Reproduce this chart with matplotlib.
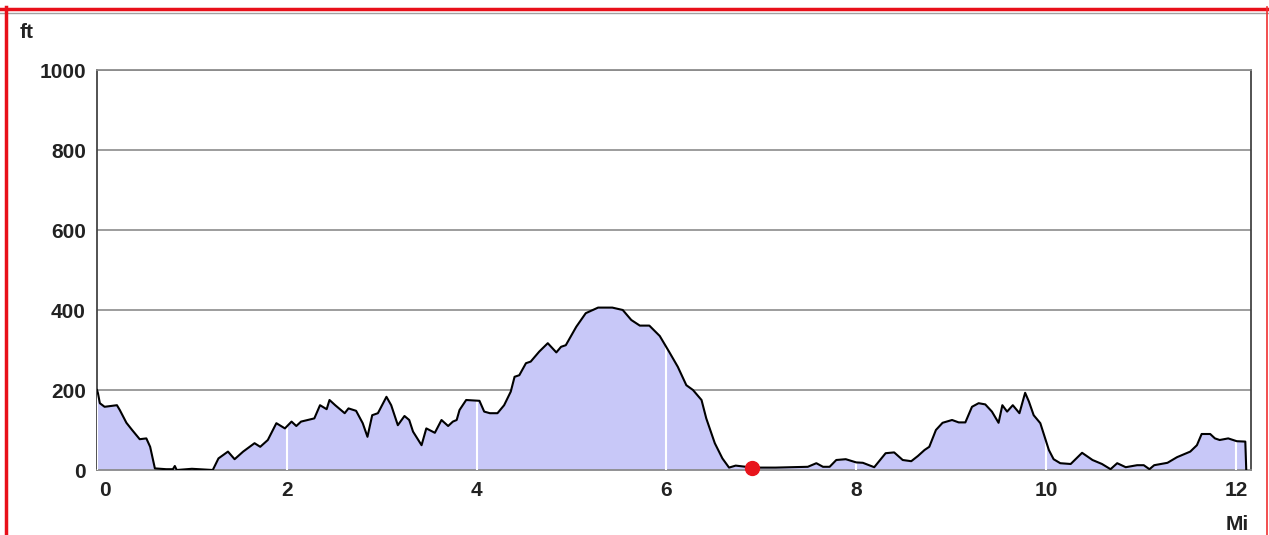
import numpy as np
import matplotlib
matplotlib.use("Agg")
import matplotlib.pyplot as plt
from matplotlib.lines import Line2D
from matplotlib.transforms import ScaledTranslation

# Elevation profile (miles, feet)
miles = [0.00, 0.01, 0.03, 0.08, 0.21, 0.24, 0.31, 0.37, 0.45, 0.52, 0.56, 0.61, 0.73, 0.80, 0.82, 0.84,
         1.00, 1.22, 1.28, 1.38, 1.45, 1.54, 1.66, 1.72, 1.80, 1.89, 1.98, 2.05, 2.10, 2.15, 2.29,
         2.35, 2.42, 2.45, 2.51, 2.61, 2.65, 2.73, 2.80, 2.85, 2.90, 2.96, 3.05, 3.10, 3.17, 3.24,
         3.29, 3.33, 3.42, 3.47, 3.56, 3.63, 3.70, 3.75, 3.79, 3.82, 3.89, 4.03, 4.08, 4.14, 4.22,
         4.29, 4.36, 4.40, 4.45, 4.52, 4.57, 4.66, 4.75, 4.84, 4.89, 4.94, 5.05, 5.15, 5.28, 5.43,
         5.54, 5.63, 5.72, 5.82, 5.93, 6.03, 6.12, 6.21, 6.28, 6.37, 6.42, 6.51, 6.59, 6.66, 6.73,
         6.91, 7.15, 7.49, 7.58, 7.65, 7.72, 7.79, 7.89, 8.00, 8.07, 8.19, 8.31, 8.40, 8.49, 8.58,
         8.65, 8.72, 8.77, 8.84, 8.91, 9.01, 9.08, 9.15, 9.22, 9.29, 9.36, 9.43, 9.50, 9.54, 9.59,
         9.65, 9.72, 9.78, 9.82, 9.87, 9.94, 10.03, 10.08, 10.15, 10.26, 10.38, 10.49, 10.59, 10.68,
         10.75, 10.84, 10.96, 11.03, 11.09, 11.14, 11.28, 11.38, 11.52, 11.59, 11.64, 11.73, 11.78,
         11.83, 11.92, 12.01, 12.10, 12.11]
elev_ft = [200, 192, 167, 158, 162, 150, 118, 100, 77, 79, 58, 4, 2, 2, 10, 0,
           3, 0, 29, 46, 27, 46, 67, 58, 75, 117, 104, 121, 110, 121, 129,
           162, 152, 175, 162, 142, 154, 148, 117, 83, 137, 142, 183, 162, 112, 135,
           125, 96, 62, 104, 93, 125, 110, 121, 125, 150, 175, 173, 146, 142, 142,
           162, 196, 233, 237, 267, 271, 296, 317, 294, 308, 312, 358, 392, 406, 406,
           400, 375, 361, 361, 335, 295, 258, 212, 200, 175, 129, 67, 29, 6, 11,
           6, 6, 8, 17, 8, 8, 25, 27, 19, 18, 7, 42, 44, 25, 22,
           35, 50, 58, 100, 118, 125, 119, 119, 158, 167, 164, 146, 118, 162, 146,
           162, 142, 193, 171, 137, 117, 50, 27, 17, 15, 43, 25, 15, 2,
           17, 7, 12, 12, 2, 12, 18, 32, 46, 62, 90, 90, 79,
           75, 79, 72, 71, 0]

x_ticks = [0, 2, 4, 6, 8, 10, 12]
y_ticks = [0, 200, 400, 600, 800, 1000]
marker_mile = 6.9
marker_ft = 5

plt.rcParams['font.family'] = ['Liberation Sans', 'DejaVu Sans']

fig = plt.figure(figsize=(12.69, 5.35), dpi=100)
fig.patch.set_facecolor('white')
ax = fig.add_axes([97/1269, 65/535, (1251-97)/1269, 400/535])

ax.set_xlim(0, 12.16)
ax.set_ylim(0, 1000)

for yv in y_ticks[1:]:
    ax.axhline(yv, color='#8c8c8c', lw=1.2, zorder=1)

ax.fill_between(miles, elev_ft, 0, color='#c8c8f8', lw=0, zorder=2)
for t in x_ticks:
    top = float(np.interp(t, miles, elev_ft))
    ax.vlines(t, 0, top, color='white', lw=1.5, zorder=3)
ax.plot(miles, elev_ft, color='black', lw=1.5, zorder=4)
ax.plot([marker_mile], [marker_ft], 'o', color='#e8141c', ms=10, zorder=5, clip_on=False)

ax.set_xticks(x_ticks)
ax.set_yticks(y_ticks)
ax.set_xticklabels([str(v) for v in x_ticks], fontsize=15, fontweight='bold', color='#222222')
ax.set_yticklabels([str(v) for v in y_ticks], fontsize=15, fontweight='bold', color='#222222')
ax.tick_params(length=0)
ax.tick_params(axis='x', pad=8)
ax.tick_params(axis='y', pad=8)
first = ax.get_xticklabels()[0]
first.set_transform(first.get_transform() + ScaledTranslation(8/100, 0, fig.dpi_scale_trans))

ax.spines['left'].set_color('#444444')
ax.spines['right'].set_color('#444444')
ax.spines['top'].set_color('#8c8c8c')
ax.spines['bottom'].set_color('#8c8c8c')
for s in ax.spines.values():
    s.set_linewidth(1.3)

fig.text(20/1269, 1 - 33/535, 'ft', fontsize=15, fontweight='bold', color='#222222', va='center')
fig.text(1249/1269, 1 - 525/535, 'Mi', fontsize=15, fontweight='bold', color='#222222',
         ha='right', va='center')

# red frame
fig.add_artist(Line2D([0, 1], [1 - 8.5/535]*2, color='#e8101a', lw=2.5, transform=fig.transFigure))
fig.add_artist(Line2D([0, 1], [1 - 12.5/535]*2, color='#a0a0a0', lw=1.0, transform=fig.transFigure))
fig.add_artist(Line2D([6.5/1269]*2, [0, 1 - 7/535], color='#e8101a', lw=2.5, transform=fig.transFigure))
fig.add_artist(Line2D([1267/1269]*2, [0, 1 - 7/535], color='#f03030', lw=1.2, transform=fig.transFigure))

fig.savefig('out.png', dpi=100)
